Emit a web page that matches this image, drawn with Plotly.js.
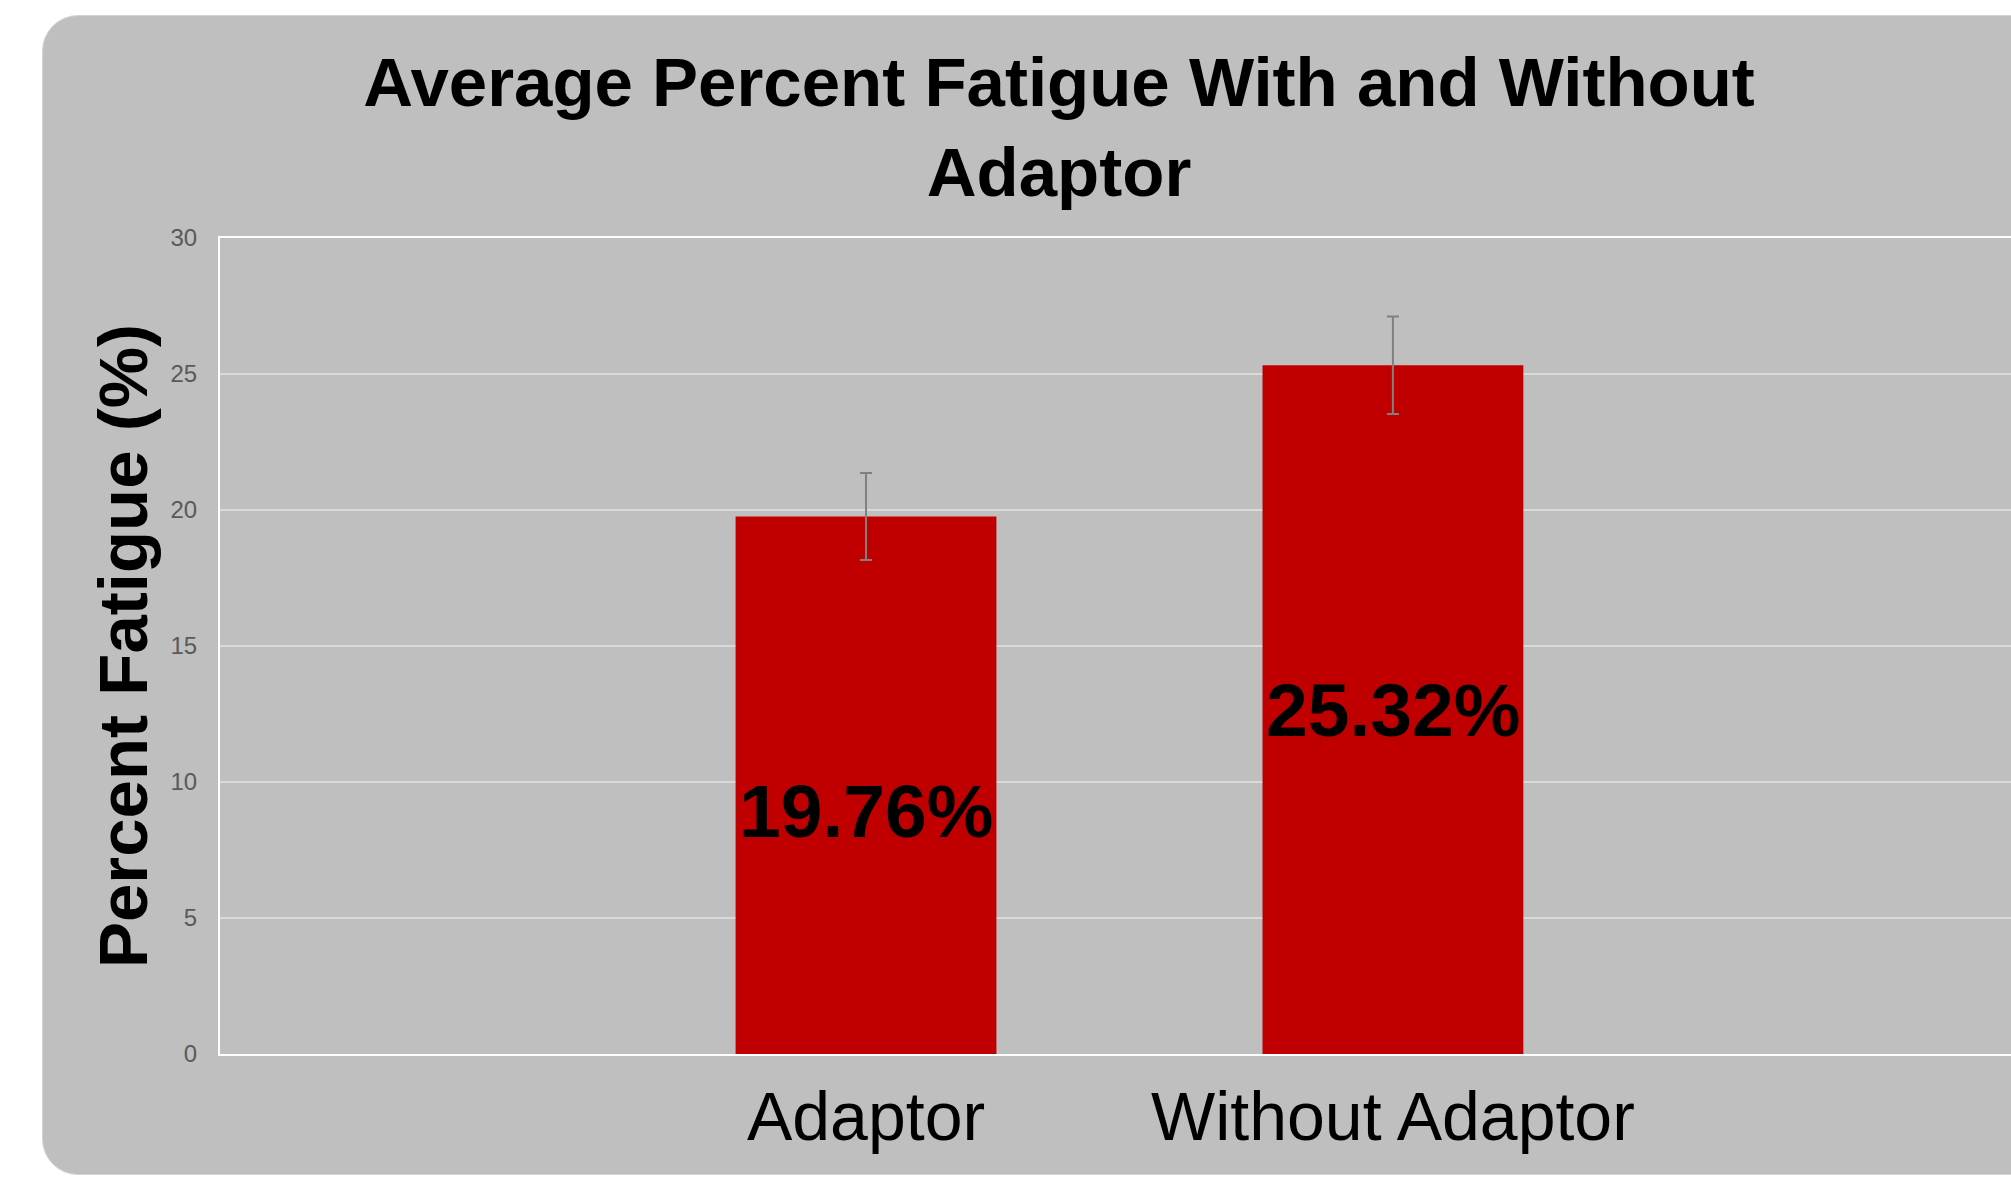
<!DOCTYPE html>
<html>
<head>
<meta charset="utf-8">
<script src="https://cdn.plot.ly/plotly-3.0.1.min.js"></script>
<style>
  html, body { margin: 0; padding: 0; background: #ffffff; overflow: hidden; }
  #bg { position: absolute; left: 42px; top: 15px; width: 2100px; height: 1160px;
        background: #bfbfbf; border: 1px solid #d4d4d4; border-radius: 36px; box-sizing: border-box; }
  #chart { position: absolute; left: 0; top: 0; width: 2011px; height: 1177px; }
</style>
</head>
<body>
<div id="bg"></div>
<div id="chart"></div>
<script>
const categories = ["Adaptor", "Without Adaptor"];
const fatigueValues = [19.76, 25.32];
const errorValues = [1.6, 1.79];
const valueLabels = ["19.76%", "25.32%"];
const yTickValues = [0, 5, 10, 15, 20, 25, 30];

const FONT = "Liberation Sans, Arial, Helvetica, sans-serif";

const trace = {
  type: "bar",
  x: categories,
  y: fatigueValues,
  marker: { color: "#c00000" },
  error_y: { type: "data", array: errorValues, visible: true, color: "#808080", thickness: 2, width: 6 },
  hoverinfo: "none"
};

const labelShifts = [-26, 0];
const annotations = categories.map((c, i) => ({
  x: c,
  y: fatigueValues[i] / 2,
  xref: "x",
  yref: "y",
  text: valueLabels[i],
  showarrow: false,
  yshift: labelShifts[i],
  font: { family: FONT, size: 75, color: "#000000", weight: "bold" }
}));

const layout = {
  width: 2011,
  height: 1177,
  paper_bgcolor: "rgba(0,0,0,0)",
  plot_bgcolor: "rgba(0,0,0,0)",
  margin: { l: 220, r: 0, t: 238, b: 123, pad: 0 },
  showlegend: false,
  bargap: 0.505,
  annotations: annotations,
  title: {
    text: "Average Percent Fatigue With and Without<br>Adaptor",
    font: { family: FONT, size: 69, color: "#000000", weight: "bold" },
    x: 1059 / 2011,
    xanchor: "center",
    xref: "container",
    y: 1 - 106 / 1177,
    yanchor: "middle",
    yref: "container"
  },
  xaxis: {
    type: "category",
    range: [-1.226, 2.173],
    showgrid: false,
    showline: true,
    linecolor: "#ffffff",
    linewidth: 2,
    mirror: true,
    ticks: "",
    ticklabelstandoff: 2,
    tickfont: { family: FONT, size: 68, color: "#000000" },
    fixedrange: true
  },
  yaxis: {
    range: [0, 30],
    tickvals: yTickValues,
    ticktext: yTickValues.map(String),
    showgrid: true,
    gridcolor: "#d9d9d9",
    gridwidth: 1.5,
    zeroline: false,
    showline: true,
    linecolor: "#ffffff",
    linewidth: 2,
    ticks: "",
    ticklabelstandoff: 16,
    tickfont: { family: FONT, size: 24, color: "#595959" },
    title: {
      text: "Percent Fatigue (%)",
      font: { family: FONT, size: 69, color: "#000000", weight: "bold" },
      standoff: 0
    },
    automargin: false,
    fixedrange: true
  },
  hovermode: false
};

Plotly.newPlot("chart", [trace], layout, { displayModeBar: false, staticPlot: true });
</script>
</body>
</html>
